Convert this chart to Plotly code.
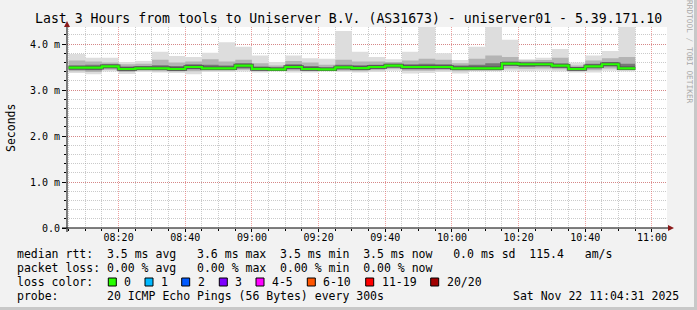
import plotly.graph_objects as go
import pandas as pd

# ---------------- data ----------------
bin_start = pd.date_range("2025-11-22 08:05:00", periods=34, freq="5min")
bin_end = pd.Timestamp("2025-11-22 10:55:00")

median_ms = [3.485, 3.485, 3.515, 3.457, 3.472, 3.472, 3.457, 3.500, 3.472, 3.472,
             3.530, 3.460, 3.450, 3.500, 3.457, 3.450, 3.490, 3.475, 3.500, 3.530,
             3.500, 3.500, 3.500, 3.472, 3.472, 3.472, 3.572, 3.560, 3.560, 3.528,
             3.457, 3.515, 3.560, 3.472]
max_ms = [3.78, 3.70, 3.70, 3.61, 3.63, 3.83, 3.74, 3.72, 3.81, 4.04,
          3.94, 3.75, 3.61, 3.75, 3.69, 3.68, 4.28, 3.83, 3.72, 3.67,
          3.83, 4.45, 3.80, 3.65, 3.94, 4.45, 4.09, 3.67, 3.70, 3.89,
          3.60, 3.75, 3.85, 4.45]
upper_mid_ms = [3.64, 3.62, 3.60, 3.56, 3.57, 3.66, 3.60, 3.62, 3.67, 3.62,
                3.66, 3.58, 3.53, 3.63, 3.60, 3.55, 3.66, 3.62, 3.62, 3.61,
                3.64, 3.68, 3.66, 3.58, 3.68, 3.75, 3.72, 3.64, 3.65, 3.70,
                3.53, 3.64, 3.69, 3.72]
upper_core_ms = [3.54, 3.55, 3.56, 3.51, 3.52, 3.54, 3.52, 3.56, 3.55, 3.53,
                 3.58, 3.51, 3.49, 3.56, 3.52, 3.49, 3.55, 3.54, 3.55, 3.57,
                 3.56, 3.57, 3.56, 3.53, 3.55, 3.58, 3.62, 3.60, 3.60, 3.58,
                 3.50, 3.57, 3.61, 3.57]
lower_core_ms = [3.44, 3.43, 3.47, 3.42, 3.44, 3.44, 3.42, 3.45, 3.44, 3.44,
                 3.47, 3.43, 3.43, 3.45, 3.43, 3.43, 3.45, 3.44, 3.46, 3.49,
                 3.45, 3.45, 3.46, 3.44, 3.44, 3.44, 3.52, 3.50, 3.51, 3.48,
                 3.43, 3.47, 3.51, 3.44]
lower_mid_ms = [3.41, 3.39, 3.44, 3.39, 3.42, 3.41, 3.40, 3.41, 3.42, 3.42,
                3.44, 3.41, 3.42, 3.42, 3.41, 3.42, 3.42, 3.41, 3.43, 3.46,
                3.42, 3.42, 3.43, 3.41, 3.42, 3.42, 3.47, 3.46, 3.47, 3.45,
                3.41, 3.43, 3.47, 3.43]
min_ms = [3.37, 3.34, 3.40, 3.35, 3.39, 3.38, 3.37, 3.34, 3.39, 3.39,
          3.40, 3.38, 3.40, 3.38, 3.38, 3.40, 3.39, 3.38, 3.39, 3.42,
          3.36, 3.37, 3.39, 3.36, 3.40, 3.40, 3.42, 3.41, 3.42, 3.40,
          3.38, 3.38, 3.42, 3.40]

y_tick_vals = [0, 1, 2, 3, 4]
y_tick_text = ["0.0", "1.0 m", "2.0 m", "3.0 m", "4.0 m"]

title_text = "Last 3 Hours from tools to Uniserver B.V. (AS31673) - uniserver01 - 5.39.171.10"
stats_rtt = "median rtt:  3.5 ms avg   3.6 ms max  3.5 ms min  3.5 ms now   0.0 ms sd  115.4   am/s"
stats_loss = "packet loss: 0.00 % avg   0.00 % max  0.00 % min  0.00 % now"
probe_text = "probe:       20 ICMP Echo Pings (56 Bytes) every 300s"
date_text = "Sat Nov 22 11:04:31 2025"
loss_labels = ["0", "1", "2", "3", "4-5", "6-10", "11-19", "20/20"]
loss_colors = ["#26ff00", "#00b8ff", "#0059ff", "#7e00ff", "#ff00ff", "#ff5500", "#ff0000", "#a10000"]

# ---------------- layout geometry ----------------
W, H = 697, 310
PL, PR, PT, PB = 67, 30, 27, 82
PW = W - PL - PR
PH = H - PT - PB
Y_TOP = PH / 46.0
X0 = pd.Timestamp("2025-11-22 08:04:31")
X1 = pd.Timestamp("2025-11-22 11:04:31")
MONO = "DejaVu Sans Mono"


def px(x):
    return (x - PL) / PW


def py(y):
    return (H - PB - y) / PH


def nb(s):
    return s.replace(" ", "\u00a0")


x_step = list(bin_start) + [bin_end]


def step(v):
    return list(v) + [v[-1]]


fig = go.Figure()
bands = [(min_ms, max_ms, "#dddddd"),
         (lower_mid_ms, upper_mid_ms, "#b4b4b4"),
         (lower_core_ms, upper_core_ms, "#777777")]
for lo, hi, col in bands:
    fig.add_trace(go.Scatter(x=x_step, y=step(lo), mode="lines",
                             line=dict(width=0, shape="hv"), hoverinfo="skip",
                             showlegend=False))
    fig.add_trace(go.Scatter(x=x_step, y=step(hi), mode="lines", fill="tonexty",
                             fillcolor=col, line=dict(width=0, shape="hv"),
                             hoverinfo="skip", showlegend=False))

fig.add_trace(go.Scatter(x=x_step, y=step(median_ms), mode="lines",
                         line=dict(color="#505050", width=3.6, shape="hv"),
                         hoverinfo="skip", showlegend=False))
fig.add_trace(go.Scatter(x=x_step, y=step(median_ms), mode="lines",
                         line=dict(color=loss_colors[0], width=2.2, shape="hv"),
                         showlegend=False))

grid_major = "rgba(222,80,80,0.55)"
grid_minor = "rgba(150,150,150,0.5)"

fig.update_layout(
    width=W, height=H,
    margin=dict(l=PL, r=PR, t=PT, b=PB, pad=0),
    paper_bgcolor="#f2f2f2",
    plot_bgcolor="#ffffff",
    showlegend=False,
    font=dict(family=MONO, size=10, color="#000000"),
    xaxis=dict(
        type="date", range=[X0, X1],
        tick0="2025-11-22 08:00:00", dtick=20 * 60 * 1000,
        tickformat="%H:%M",
        showgrid=True, gridcolor=grid_major, griddash="1px,1px", gridwidth=1,
        ticks="outside", ticklen=3, tickcolor="#000000",
        ticklabelstandoff=-3,
        minor=dict(dtick=5 * 60 * 1000, tick0="2025-11-22 08:00:00",
                   showgrid=True, gridcolor=grid_minor, griddash="1px,1px",
                   ticks="outside", ticklen=2, tickcolor="#000000"),
        showline=False, zeroline=False,
        tickfont=dict(family=MONO, size=10),
        fixedrange=True,
    ),
    yaxis=dict(
        range=[0, Y_TOP],
        tickmode="array", tickvals=y_tick_vals, ticktext=y_tick_text,
        showgrid=True, gridcolor=grid_major, griddash="1px,1px", gridwidth=1,
        ticks="outside", ticklen=4, tickcolor="#000000",
        minor=dict(dtick=0.2, tick0=0, showgrid=True, gridcolor=grid_minor,
                   griddash="1px,1px", ticks="outside", ticklen=2,
                   tickcolor="#000000"),
        showline=False, zeroline=False,
        tickfont=dict(family=MONO, size=10),
        fixedrange=True,
    ),
)

shapes = []
# axes with arrows
shapes.append(dict(type="line", xref="paper", yref="paper",
                   x0=px(62), x1=px(669), y0=py(228), y1=py(228),
                   line=dict(color="#000000", width=1), layer="above"))
shapes.append(dict(type="line", xref="paper", yref="paper",
                   x0=px(67), x1=px(67), y0=py(232), y1=py(24),
                   line=dict(color="#000000", width=1), layer="above"))
shapes.append(dict(type="path", xref="paper", yref="paper",
                   path="M {} {} L {} {} L {} {} Z".format(px(668), py(225), px(674), py(228), px(668), py(231)),
                   fillcolor="#8b1a1a", line=dict(width=0), layer="above"))
shapes.append(dict(type="path", xref="paper", yref="paper",
                   path="M {} {} L {} {} L {} {} Z".format(px(64), py(27), px(67), py(21), px(70), py(27)),
                   fillcolor="#8b1a1a", line=dict(width=0), layer="above"))
# frame shading
shapes.append(dict(type="rect", xref="paper", yref="paper",
                   x0=px(0), x1=px(W), y0=py(H), y1=py(H - 3),
                   fillcolor="#c8c8c8", line=dict(width=0)))
shapes.append(dict(type="rect", xref="paper", yref="paper",
                   x0=px(W - 3), x1=px(W), y0=py(H), y1=py(0),
                   fillcolor="#c8c8c8", line=dict(width=0)))

annotations = []


def text(x, y, s, size=11.5, anchor="left", color="#000000", angle=0):
    annotations.append(dict(xref="paper", yref="paper", x=px(x), y=py(y),
                            text=nb(s), showarrow=False, xanchor=anchor,
                            yanchor="middle", borderpad=0, textangle=angle,
                            font=dict(family=MONO, size=size, color=color)))


text(W / 2, 19, title_text, size=13.2, anchor="center")
text(16, 254, stats_rtt)
text(16, 268, stats_loss)
text(16, 282, "loss color:")
text(16, 296, probe_text)
text(680, 296, date_text, anchor="right")
text(11, 128, "Seconds", anchor="center", angle=-90)
text(690, 52, "RRDTOOL / TOBI OETIKER", size=7.8, anchor="center", color="#a8a8a8", angle=90)

box_x = [108.3, 145.0, 181.7, 219.3, 256.0, 307.3, 365.7, 430.7]
for bx, lab, col in zip(box_x, loss_labels, loss_colors):
    shapes.append(dict(type="rect", xref="paper", yref="paper",
                       x0=px(bx), x1=px(bx + 8), y0=py(286), y1=py(278),
                       fillcolor=col, line=dict(color="#000000", width=1)))
    text(bx + 15, 282, lab)

fig.update_layout(shapes=shapes, annotations=annotations)
fig.write_html("out.html")
